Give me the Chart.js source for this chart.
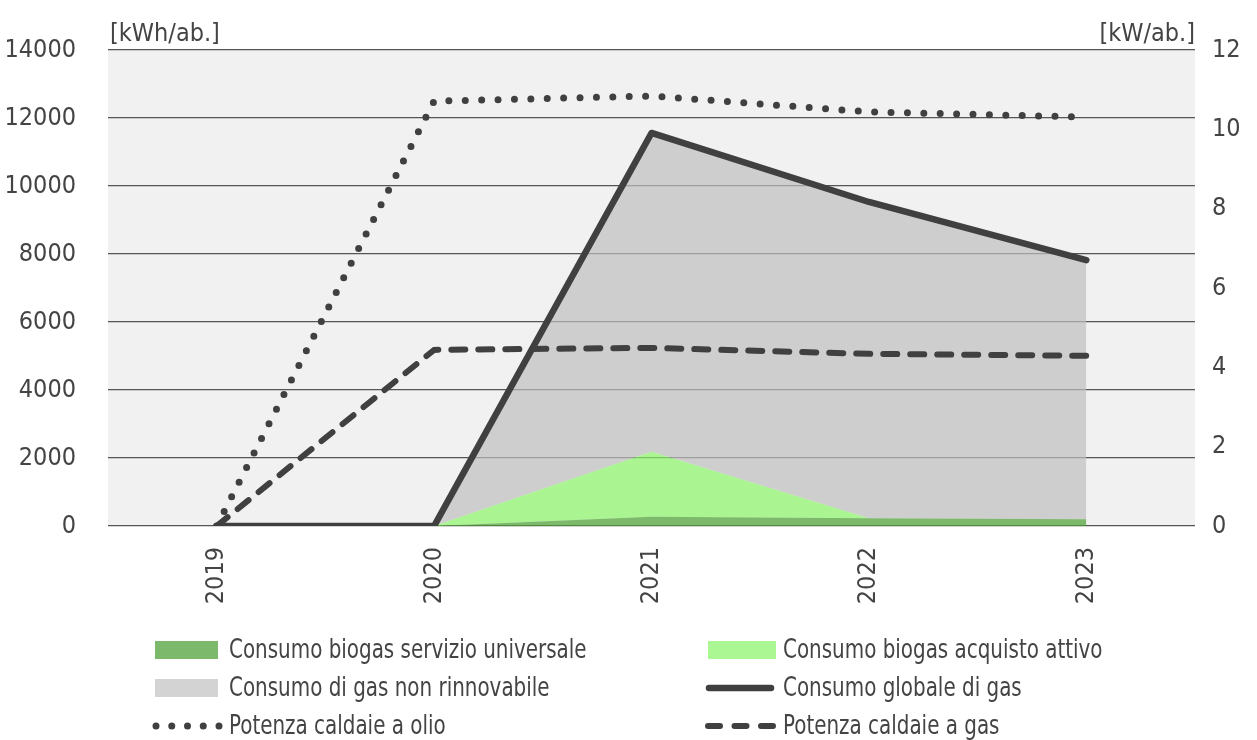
<!DOCTYPE html>
<html>
<head>
<meta charset="utf-8">
<script src="https://cdn.jsdelivr.net/npm/chart.js@4.4.1/dist/chart.umd.min.js"></script>
<style>
  html, body { margin: 0; padding: 0; background: #ffffff; }
  #wrap { position: relative; width: 1257px; height: 740px; }
  #chart { position: absolute; left: 0; top: 0; }
  #legend {
    position: absolute; left: 0; top: 630px; width: 1257px; height: 110px;
    font-family: "Liberation Sans Narrow", "DejaVu Sans Condensed", sans-serif;
    font-size: 27px; color: #444;
  }
  .item { position: absolute; height: 38px; display: flex; align-items: center; white-space: nowrap; }
  .item svg { flex: none; overflow: visible; }
  .item span { display: inline-block; transform: translateY(-2px) scaleX(0.82); transform-origin: left center; }
</style>
</head>
<body>
<div id="wrap">
  <canvas id="chart" width="1257" height="740"></canvas>
  <div id="legend"></div>
</div>
<script>
// Years on the category axis
const years = ['2019', '2020', '2021', '2022', '2023'];

// Gas consumption per inhabitant [kWh/ab.] (stacked areas)
const biogasUniversale = [null, 0, 270, 225, 200];
const biogasAcquisto   = [null, 0, 1915, 0, 0];
const gasNonRinnovabile = [null, 0, 9375, 9305, 7620];
// Total gas consumption [kWh/ab.]
const consumoGlobale = [0, 0, 11560, 9530, 7820];

// Installed boiler power per inhabitant [kW/ab.]
const potenzaOlio = [0, 10.71, 10.84, 10.44, 10.31];
const potenzaGas  = [0, 4.44, 4.49, 4.34, 4.29];

// Axis units
const unitLeft = '[kWh/ab.]';
const unitRight = '[kW/ab.]';

const FONT = '"Liberation Sans Narrow", "DejaVu Sans Condensed", sans-serif';
const INK = '#444444';

const plotBackground = {
  id: 'plotBackground',
  beforeDraw(chart) {
    const { ctx, chartArea: a } = chart;
    ctx.save();
    ctx.fillStyle = '#f1f1f1';
    ctx.fillRect(a.left, a.top, a.right - a.left, a.bottom - a.top);
    ctx.restore();
  }
};

const unitLabels = {
  id: 'unitLabels',
  afterDraw(chart) {
    const { ctx, chartArea: a } = chart;
    ctx.save();
    ctx.fillStyle = INK;
    ctx.font = '25px ' + FONT;
    ctx.textBaseline = 'alphabetic';
    ctx.textAlign = 'left';
    ctx.fillText(unitLeft, a.left + 2, a.top - 9);
    ctx.textAlign = 'right';
    ctx.fillText(unitRight, a.right, a.top - 9);
    ctx.restore();
  }
};

// Areas share one draw/stack order so they stack in dataset order
const datasets = [
  {
    type: 'line', label: 'Consumo biogas servizio universale', data: biogasUniversale,
    yAxisID: 'y', stack: 'areas', fill: 'origin',
    backgroundColor: 'rgba(74,161,48,0.7)', borderWidth: 0, pointRadius: 0, order: 10,
    legend: { kind: 'box', color: '#7cb96a' }
  },
  {
    type: 'line', label: 'Consumo biogas acquisto attivo', data: biogasAcquisto,
    yAxisID: 'y', stack: 'areas', fill: '-1',
    backgroundColor: 'rgba(140,247,105,0.7)', borderWidth: 0, pointRadius: 0, order: 10,
    legend: { kind: 'box', color: '#abf794' }
  },
  {
    type: 'line', label: 'Consumo di gas non rinnovabile', data: gasNonRinnovabile,
    yAxisID: 'y', stack: 'areas', fill: '-1',
    backgroundColor: 'rgba(191,191,191,0.7)', borderWidth: 0, pointRadius: 0, order: 10,
    legend: { kind: 'box', color: '#d3d3d3' }
  },
  {
    type: 'line', label: 'Consumo globale di gas', data: consumoGlobale,
    yAxisID: 'y', stack: 'total', fill: false,
    borderColor: '#404040', borderWidth: 6.5, borderCapStyle: 'round', borderJoinStyle: 'round',
    pointRadius: 0, order: 2,
    legend: { kind: 'line', dash: null, width: 6.5, x1: 3, x2: 65 }
  },
  {
    type: 'line', label: 'Potenza caldaie a olio', data: potenzaOlio,
    yAxisID: 'y1', fill: false,
    borderColor: '#404040', borderWidth: 7, borderDash: [0, 16.4], borderCapStyle: 'round',
    pointRadius: 0, order: 1,
    legend: { kind: 'line', dash: [0, 15.75], width: 7, x1: 1, x2: 65 }
  },
  {
    type: 'line', label: 'Potenza caldaie a gas', data: potenzaGas,
    yAxisID: 'y1', fill: false,
    borderColor: '#404040', borderWidth: 6, borderDash: [14, 13], borderCapStyle: 'round',
    pointRadius: 0, order: 1,
    legend: { kind: 'line', dash: [12, 14.5], width: 6, x1: 2, x2: 68 }
  }
];

const chart = new Chart(document.getElementById('chart'), {
  data: { labels: years, datasets: datasets.map(d => { const c = Object.assign({}, d); delete c.legend; return c; }) },
  options: {
    responsive: false,
    animation: false,
    layout: { padding: { top: 50, bottom: 120, left: 0, right: 0 } },
    plugins: { legend: { display: false }, tooltip: { enabled: false } },
    elements: { line: { tension: 0 } },
    scales: {
      x: {
        offset: true,
        grid: { display: false, drawTicks: false },
        border: { display: false },
        ticks: { color: INK, font: { family: FONT, size: 25 }, minRotation: 90, maxRotation: 90, padding: 21 },
        afterFit(s) { s.height = 94; }
      },
      y: {
        position: 'left', stacked: true, min: 0, max: 14000,
        grid: { color: '#555555', lineWidth: 1.3, drawTicks: false },
        border: { display: false },
        ticks: { stepSize: 2000, color: INK, font: { family: FONT, size: 25 }, padding: 32,
                 callback: v => String(v) },
        afterFit(s) { s.width = 108; }
      },
      y1: {
        position: 'right', min: 0, max: 12,
        grid: { display: false, drawTicks: false },
        border: { display: false },
        ticks: { stepSize: 2, color: INK, font: { family: FONT, size: 25 }, padding: 17,
                 callback: v => String(v) },
        afterFit(s) { s.width = 62; }
      }
    }
  },
  plugins: [plotBackground, unitLabels]
});

// Legend in two columns, three rows; symbol slot then label
const legendEl = document.getElementById('legend');
const cols = [155, 706];
const textStart = [229, 783];
const rowY = [1, 39, 77];
datasets.forEach((d, i) => {
  const c = i % 2;
  const item = document.createElement('div');
  item.className = 'item';
  item.style.left = cols[c] + 'px';
  item.style.top = rowY[Math.floor(i / 2)] + 'px';
  const w = textStart[c] - cols[c];
  let svg;
  if (d.legend.kind === 'box') {
    const bx = c === 0 ? 0 : 2;
    const bw = c === 0 ? 63 : 68;
    svg = `<svg width="${w}" height="18"><rect x="${bx}" y="0" width="${bw}" height="18" fill="${d.legend.color}"/></svg>`;
  } else {
    const dash = d.legend.dash ? `stroke-dasharray="${d.legend.dash.join(' ')}"` : '';
    svg = `<svg width="${w}" height="18"><line x1="${d.legend.x1}" y1="9" x2="${d.legend.x2}" y2="9" stroke="#404040" stroke-width="${d.legend.width}" stroke-linecap="round" ${dash}/></svg>`;
  }
  item.innerHTML = svg + `<span>${d.label}</span>`;
  legendEl.appendChild(item);
});
</script>
</body>
</html>
